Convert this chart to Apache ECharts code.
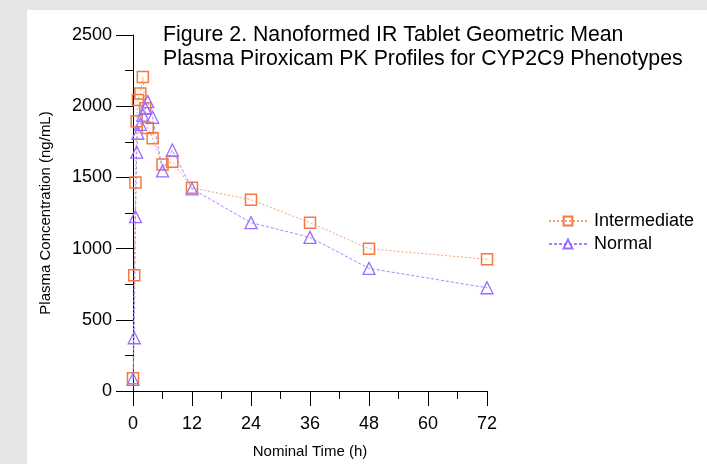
<!DOCTYPE html>
<html>
<head>
<meta charset="utf-8">
<script src="https://cdn.jsdelivr.net/npm/echarts@6/dist/echarts.min.js"></script>
<style>
html,body{margin:0;padding:0;background:#e5e5e5;}
#chart{width:707px;height:464px;}
</style>
</head>
<body>
<div id="chart"></div>
<script>
var times = [0, 0.25, 0.5, 0.75, 1, 1.5, 2, 2.5, 3, 4, 6, 8, 12, 24, 36, 48, 72];
var intermediate = [90, 812, 1465, 1895, 2043, 2090, 2205, 1985, 1847, 1775, 1590, 1610, 1427, 1343, 1182, 999, 925];
var normal = [82, 374, 1224, 1677, 1810, 1873, 1938, 1985, 2032, 1922, 1546, 1692, 1420, 1182, 1079, 861, 725];
var xTicks = [0, 12, 24, 36, 48, 60, 72];
var yTicks = [0, 500, 1000, 1500, 2000, 2500];
var seriesNames = ['Intermediate', 'Normal'];
var titleText = 'Figure 2. Nanoformed IR Tablet Geometric Mean\nPlasma Piroxicam PK Profiles for CYP2C9 Phenotypes';

function pairs(xs, ys) { return xs.map(function (x, i) { return [x, ys[i]]; }); }

var FONT = '"Liberation Sans", Arial, sans-serif';
var chart = echarts.init(document.getElementById('chart'), null, {renderer: 'canvas'});
chart.setOption({
  backgroundColor: 'transparent',
  animation: false,
  graphic: [{
    type: 'rect', z: -10, silent: true,
    shape: {x: 27, y: 10, width: 680, height: 454},
    style: {fill: '#ffffff'}
  }],
  title: {
    text: titleText,
    left: 163, top: 23, padding: 0,
    textStyle: {fontFamily: FONT, fontSize: 21.3, fontWeight: 'normal', color: '#000', lineHeight: 24}
  },
  legend: {
    orient: 'vertical',
    left: 543, top: 207,
    itemWidth: 38, itemHeight: 11, itemGap: 5,
    textStyle: {fontFamily: FONT, fontSize: 18, color: '#000', padding: [0, 0, 0, 2]},
    data: seriesNames
  },
  grid: {left: 133, right: 220, top: 35, bottom: 73, containLabel: false},
  xAxis: {
    type: 'value', min: 0, max: 72, interval: 12,
    name: 'Nominal Time (h)', nameLocation: 'middle', nameGap: 53,
    nameTextStyle: {fontFamily: FONT, fontSize: 15, color: '#000'},
    axisLine: {show: true, onZero: false, lineStyle: {color: '#000', width: 1}},
    axisTick: {show: true, length: 15, lineStyle: {color: '#000'}},
    minorTick: {show: true, splitNumber: 2, length: 8, lineStyle: {color: '#000'}},
    splitLine: {show: false},
    axisLabel: {fontFamily: FONT, fontSize: 18, color: '#000', margin: 24,
      formatter: function (v) { return xTicks.indexOf(v) >= 0 ? String(v) : ''; }}
  },
  yAxis: {
    type: 'value', min: 0, max: 2500, interval: 500,
    name: 'Plasma Concentration (ng/mL)', nameLocation: 'middle', nameGap: 80, nameRotate: 90,
    nameTextStyle: {fontFamily: FONT, fontSize: 15, color: '#000'},
    axisLine: {show: true, onZero: false, lineStyle: {color: '#000', width: 1}},
    axisTick: {show: true, length: 17, lineStyle: {color: '#000'}},
    minorTick: {show: true, splitNumber: 2, length: 8, lineStyle: {color: '#000'}},
    splitLine: {show: false},
    axisLabel: {fontFamily: FONT, fontSize: 18, color: '#000', margin: 21,
      formatter: function (v) { return yTicks.indexOf(v) >= 0 ? String(v) : ''; }}
  },
  series: [{
    name: seriesNames[0], type: 'line',
    data: pairs(times, intermediate),
    symbol: 'rect', symbolSize: 11,
    itemStyle: {color: 'rgba(255,255,255,0)', borderColor: '#f5793a', borderWidth: 1.5},
    lineStyle: {color: '#f7a07a', width: 1, type: [2, 2]},
    z: 2
  }, {
    name: seriesNames[1], type: 'line',
    data: pairs(times, normal),
    symbol: 'triangle', symbolSize: 12,
    itemStyle: {color: 'rgba(255,255,255,0)', borderColor: '#9a6cff', borderWidth: 1.3},
    lineStyle: {color: '#a585ff', width: 1, type: [3, 2]},
    z: 3
  }]
});
</script>
</body>
</html>
